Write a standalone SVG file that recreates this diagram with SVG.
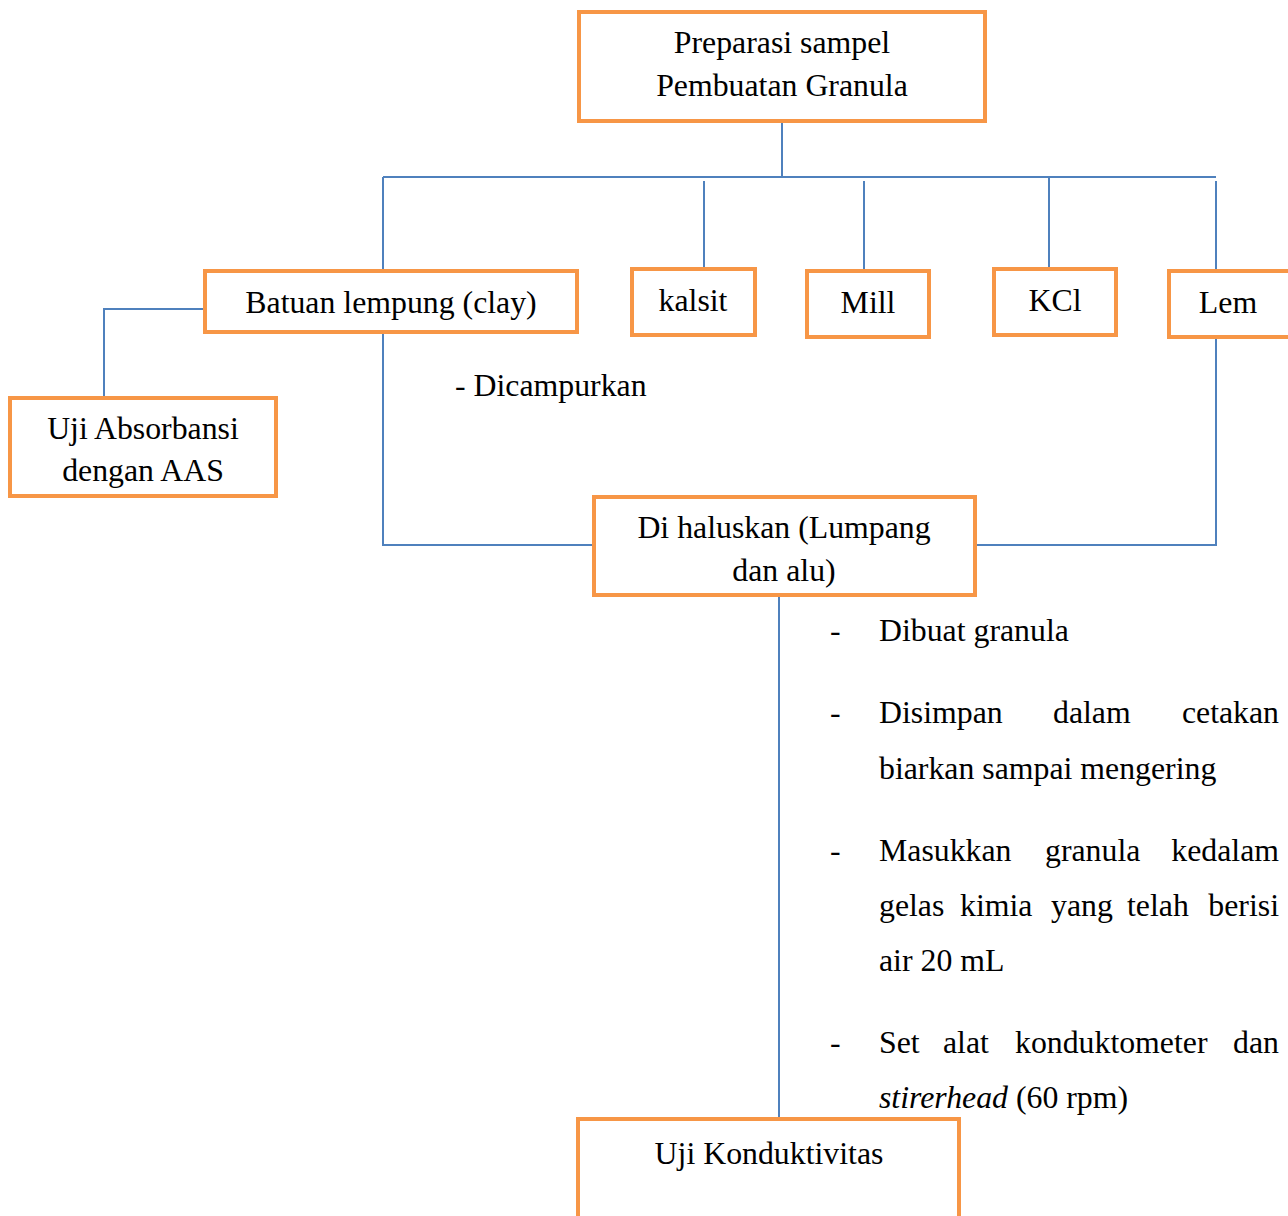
<svg xmlns="http://www.w3.org/2000/svg" width="1288" height="1216" viewBox="0 0 1288 1216">
<style>
.box{fill:#fff;stroke:#F79646;stroke-width:4}
.ln{fill:none;stroke:#4F81BD;stroke-width:2}
text{font-family:"Liberation Serif","Times New Roman",serif;font-size:31.8px;fill:#000}
.c{text-anchor:middle}
.e{text-anchor:end}
</style>
<rect width="1288" height="1216" fill="#fff"/>
<g id="connectors">
<path class="ln" d="M782 121V177M383 177H1216M383 177V269M704 181V267M864 181V269M1049 177V267M1216 181V269"/>
<path class="ln" d="M204 309H104V396"/>
<path class="ln" d="M383 334V545H593"/>
<path class="ln" d="M1216 338V545H977"/>
<path class="ln" d="M779 597V1117"/>
</g>
<g id="node-preparasi">
<rect class="box" x="579" y="12" width="406" height="109"/>
<text class="c" x="782" y="53">Preparasi sampel</text>
<text class="c" x="782" y="96">Pembuatan Granula</text>
</g>
<g id="node-batuan">
<rect class="box" x="205" y="271" width="372" height="61"/>
<text class="c" x="391" y="313">Batuan lempung (clay)</text>
</g>
<g id="node-kalsit">
<rect class="box" x="632" y="269" width="123" height="66"/>
<text class="c" x="693" y="311">kalsit</text>
</g>
<g id="node-mill">
<rect class="box" x="807" y="271" width="122" height="66"/>
<text class="c" x="868" y="313">Mill</text>
</g>
<g id="node-kcl">
<rect class="box" x="994" y="269" width="122" height="66"/>
<text class="c" x="1055" y="311">KCl</text>
</g>
<g id="node-lem">
<rect class="box" x="1169" y="271" width="125" height="66"/>
<text class="c" x="1228" y="313">Lem</text>
</g>
<g id="node-uji-absorbansi">
<rect class="box" x="10" y="398" width="266" height="98"/>
<text class="c" x="143" y="439">Uji Absorbansi</text>
<text class="c" x="143" y="481">dengan AAS</text>
</g>
<g id="label-dicampurkan">
<text x="455" y="396">- Dicampurkan</text>
</g>
<g id="node-dihaluskan">
<rect class="box" x="594" y="497" width="381" height="98"/>
<text class="c" x="784" y="538">Di haluskan (Lumpang</text>
<text class="c" x="784" y="581">dan alu)</text>
</g>
<g id="steps">
<text x="830" y="641">-</text><text x="879" y="641">Dibuat granula</text>
<text x="830" y="723">-</text><text x="879" y="723">Disimpan</text><text x="1053" y="723">dalam</text><text class="e" x="1279" y="723">cetakan</text>
<text x="879" y="779">biarkan sampai mengering</text>
<text x="830" y="861">-</text><text x="879" y="861">Masukkan</text><text x="1045" y="861">granula</text><text class="e" x="1279" y="861">kedalam</text>
<text x="879" y="916">gelas</text><text x="960" y="916">kimia</text><text x="1051" y="916">yang</text><text x="1127" y="916">telah</text><text class="e" x="1279" y="916">berisi</text>
<text x="879" y="971">air 20 mL</text>
<text x="830" y="1053">-</text><text x="879" y="1053">Set</text><text x="943" y="1053">alat</text><text x="1015" y="1053">konduktometer</text><text class="e" x="1279" y="1053">dan</text>
<text x="879" y="1108"><tspan font-style="italic">stirerhead</tspan> (60 rpm)</text>
</g>
<g id="node-uji-konduktivitas">
<rect class="box" x="578" y="1119" width="381" height="110"/>
<text class="c" x="769" y="1164">Uji Konduktivitas</text>
</g>
</svg>
